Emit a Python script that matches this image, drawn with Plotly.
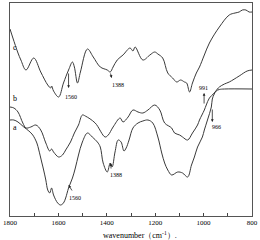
import plotly.graph_objects as go

# Curve c (top)
wn_c = [1800, 1788, 1767, 1755, 1734, 1702, 1673, 1644, 1632, 1628, 1620, 1599, 1579, 1558, 1542,
        1534, 1521, 1509, 1480, 1456, 1427, 1398, 1386, 1374, 1357, 1333, 1304, 1292, 1283, 1251,
        1222, 1202, 1189, 1169, 1148, 1128, 1111, 1095, 1079, 1070, 1058, 1046, 1030, 1017, 997,
        976, 935, 894, 870, 853, 840, 825, 812, 800]
t_c = [184, 175, 160, 153, 143, 155, 141, 128, 125, 127, 122, 116, 130, 143, 151,
       146, 130, 141, 164, 156, 146, 143, 141, 146, 153, 158, 165, 162, 166, 153,
       158, 161, 159, 155, 140, 135, 131, 133, 131, 130, 121, 130, 140, 146, 158,
       170, 186, 198, 200, 201, 203, 203, 201, 201]

# Curve b (middle)
wn_b = [1800, 1784, 1767, 1747, 1734, 1714, 1693, 1673, 1652, 1636, 1628, 1620, 1599, 1583, 1570,
        1550, 1534, 1517, 1501, 1489, 1448, 1407, 1394, 1374, 1345, 1333, 1312, 1292, 1271, 1251,
        1230, 1202, 1181, 1161, 1132, 1120, 1099, 1087, 1066, 1046, 1025, 1017, 997, 989, 976,
        956, 943, 935, 914, 894, 853, 820, 800]
t_b = [106, 105, 101, 90, 85, 86, 88, 83, 70, 62, 64, 61, 56, 58, 63,
       71, 80, 88, 98, 97, 90, 76, 78, 86, 95, 91, 96, 103, 101, 100,
       103, 108, 103, 90, 85, 80, 78, 76, 73, 80, 88, 93, 103, 108, 115,
       120, 124, 126, 129, 131, 137, 142, 143]

# Curve a (bottom)
wn_a = [1800, 1784, 1767, 1743, 1722, 1706, 1689, 1681, 1669, 1661, 1652, 1644, 1636, 1628, 1620,
        1603, 1591, 1579, 1570, 1558, 1542, 1530, 1517, 1501, 1480, 1460, 1439, 1427, 1415, 1398,
        1386, 1378, 1366, 1353, 1341, 1329, 1320, 1308, 1292, 1271, 1251, 1230, 1210, 1189, 1173,
        1161, 1148, 1132, 1107, 1087, 1066, 1050, 1038, 1025, 1005, 997, 984, 968, 964, 956,
        948, 935, 914, 800]
t_a = [93, 93, 91, 86, 82, 78, 70, 63, 51, 43, 33, 23, 20, 25, 18,
       10, 8, 10, 15, 25, 35, 45, 58, 71, 80, 76, 71, 66, 50, 41,
       50, 46, 61, 73, 71, 62, 65, 73, 85, 90, 92, 93, 90, 76, 60,
       50, 43, 38, 41, 40, 36, 48, 56, 66, 76, 83, 93, 106, 114, 119,
       122, 123.5, 124, 124]

curve_labels = ["c", "b", "a"]
line_color = "#3a3a3a"

fig = go.Figure()
for wn, t in [(wn_c, t_c), (wn_b, t_b), (wn_a, t_a)]:
    fig.add_trace(go.Scatter(x=wn, y=t, mode="lines", line=dict(color=line_color, width=1),
                             line_shape="spline", showlegend=False, hoverinfo="skip"))

font = "Liberation Serif"

# curve letters
for lab, yv in zip(curve_labels, [166, 115, 86]):
    fig.add_annotation(x=1796, y=yv, text=lab, showarrow=False, xanchor="left",
                       font=dict(family=font, size=8, color="black"))

# peak labels (text)
peak_text = [("1560", 1550, 116), ("1388", 1355, 128), ("991", 999, 125),
             ("966", 948, 86), ("1388", 1361, 38), ("1560", 1530, 15)]
for txt, xv, yv in peak_text:
    fig.add_annotation(x=xv, y=yv, text=txt, showarrow=False,
                       font=dict(family=font, size=6, color="black"))

# arrows: (head x, head y, tail x, tail y)
arrows = [(1558, 125, 1558, 141), (1380, 135, 1386, 141), (998, 120, 998, 108),
          (964, 91, 964, 105), (1384, 50, 1382, 43), (1558, 28, 1540, 21)]
for hx, hy, tx, ty in arrows:
    fig.add_annotation(x=hx, y=hy, ax=tx, ay=ty, axref="x", ayref="y", xref="x", yref="y",
                       text="", showarrow=True, arrowhead=2, arrowsize=0.7, arrowwidth=0.8,
                       arrowcolor="#222", standoff=0, startstandoff=0)

fig.add_annotation(x=0.537, y=-0.055, xref="paper", yref="paper", yanchor="top",
                   text="wavenumber（cm<sup>-1</sup>）.", showarrow=False,
                   font=dict(family=font, size=8, color="black"))

fig.update_layout(
    width=260, height=240,
    margin=dict(l=10, r=8, t=3, b=24),
    paper_bgcolor="white", plot_bgcolor="white",
    xaxis=dict(range=[1800, 800], dtick=200, tick0=800, ticks="inside", ticklen=3,
               tickcolor="#444", showgrid=False, zeroline=False, showline=True,
               linecolor="#555", linewidth=1, mirror=True,
               tickfont=dict(family=font, size=7, color="black"),
               minor=dict(dtick=100, ticks="inside", ticklen=3, tickcolor="#444")),
    yaxis=dict(range=[-3, 210], showticklabels=False, ticks="", showgrid=False,
               zeroline=False, showline=True, linecolor="#555", linewidth=1, mirror=True),
)

fig.write_html("out.html", config={"displayModeBar": False},
               post_script="document.body.style.margin='0';")
